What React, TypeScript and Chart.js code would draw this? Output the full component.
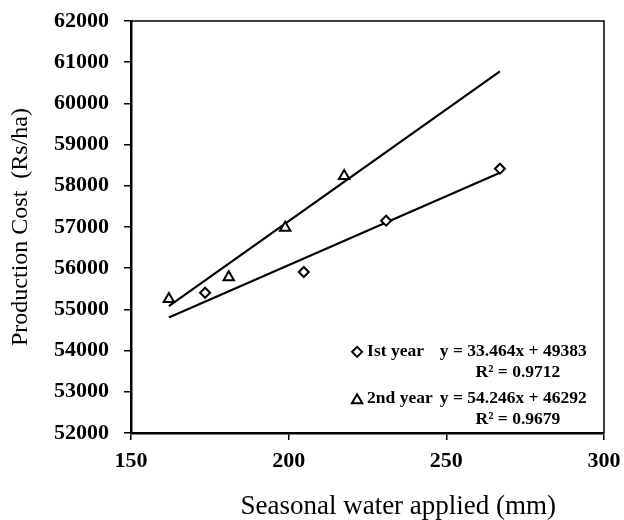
import React, { useEffect, useRef } from 'react';
import { Chart, registerables } from 'chart.js';

Chart.register(...registerables);

// ---- data ----
const xTicks = [150, 200, 250, 300];
const yTicks = [52000, 53000, 54000, 55000, 56000, 57000, 58000, 59000, 60000, 61000, 62000];

const firstYearX = [173.5, 204.8, 230.9, 267.0];
const firstYearY = [55405, 55908, 57153, 58415];
const secondYearX = [162.0, 181.0, 198.9, 217.6];
const secondYearY = [55250, 55780, 56980, 58235];

const trend1X = [162, 267];
const trend1Y = [54804, 58318];
const trend2X = [162, 267];
const trend2Y = [55080, 60776];

const seriesNames = ['Ist year', '2nd year'];
const equations = ['y = 33.464x + 49383', 'y = 54.246x + 46292'];
const rSquared = ['R\u00B2 = 0.9712', 'R\u00B2 = 0.9679'];
const xTitle = 'Seasonal water applied (mm)';
const yTitle = 'Production Cost  (Rs/ha)';

const SERIF = "'Liberation Serif', 'Times New Roman', serif";

const zip = (xs: number[], ys: number[]) => xs.map((x, i) => ({ x, y: ys[i] }));

function drawDiamond(ctx: CanvasRenderingContext2D, x: number, y: number, r: number) {
  ctx.beginPath();
  ctx.moveTo(x, y - r);
  ctx.lineTo(x + r, y);
  ctx.lineTo(x, y + r);
  ctx.lineTo(x - r, y);
  ctx.closePath();
  ctx.fillStyle = '#fff';
  ctx.fill();
  ctx.stroke();
}

function drawTriangle(ctx: CanvasRenderingContext2D, x: number, y: number, r: number) {
  ctx.beginPath();
  for (let i = 0; i < 3; i++) {
    const a = (i * 2 * Math.PI) / 3;
    const px = x + Math.sin(a) * r;
    const py = y - Math.cos(a) * r;
    if (i === 0) ctx.moveTo(px, py);
    else ctx.lineTo(px, py);
  }
  ctx.closePath();
  ctx.fillStyle = '#fff';
  ctx.fill();
  ctx.stroke();
}

const framePlugin = {
  id: 'frameAndLegend',
  afterDraw(chart: any) {
    const { ctx, chartArea } = chart;
    const { left, right, top, bottom } = chartArea;
    const w = right - left;
    const h = bottom - top;
    ctx.save();
    // top + right frame
    ctx.strokeStyle = '#000';
    ctx.lineWidth = 1.5;
    ctx.beginPath();
    ctx.moveTo(left, top);
    ctx.lineTo(right, top);
    ctx.lineTo(right, bottom);
    ctx.stroke();

    // x axis title
    ctx.fillStyle = '#000';
    ctx.font = `27px ${SERIF}`;
    ctx.textAlign = 'center';
    ctx.textBaseline = 'alphabetic';
    ctx.fillText(xTitle, left + 0.565 * w, chart.height - 6);

    // legend
    const markerX = left + 0.478 * w;
    const rows = [0.803, 0.917];
    const rRows = [0.853, 0.966];
    ctx.lineWidth = 2;
    ctx.strokeStyle = '#000';
    rows.forEach((ry, i) => {
      const y = top + ry * h;
      if (i === 0) drawDiamond(ctx, markerX, y, 5);
      else drawTriangle(ctx, markerX, y + 1.5, 6);
      ctx.fillStyle = '#000';
      ctx.font = `bold 17.5px ${SERIF}`;
      ctx.textAlign = 'left';
      ctx.textBaseline = 'middle';
      ctx.fillText(seriesNames[i], markerX + 10, y);
      ctx.fillText(equations[i], left + 0.653 * w, y);
      ctx.textAlign = 'center';
      ctx.fillText(rSquared[i], left + 0.818 * w, top + rRows[i] * h);
    });
    ctx.restore();
  },
};

export default function App() {
  const ref = useRef<HTMLCanvasElement | null>(null);
  useEffect(() => {
    if (!ref.current) return;
    const chart = new Chart(ref.current, {
      type: 'scatter',
      data: {
        datasets: [
          {
            label: seriesNames[0],
            data: zip(firstYearX, firstYearY),
            pointStyle: 'rectRot',
            pointRadius: 5,
            pointBorderWidth: 2,
            borderColor: '#000',
            backgroundColor: '#fff',
            showLine: false,
          },
          {
            label: seriesNames[1],
            data: zip(secondYearX, secondYearY),
            pointStyle: 'triangle',
            pointRadius: 6,
            pointBorderWidth: 2,
            borderColor: '#000',
            backgroundColor: '#fff',
            showLine: false,
          },
          {
            label: 'trend1',
            data: zip(trend1X, trend1Y),
            showLine: true,
            borderColor: '#000',
            borderWidth: 2.2,
            pointRadius: 0,
            fill: false,
          },
          {
            label: 'trend2',
            data: zip(trend2X, trend2Y),
            showLine: true,
            borderColor: '#000',
            borderWidth: 2.2,
            pointRadius: 0,
            fill: false,
          },
        ],
      },
      options: {
        animation: false,
        responsive: true,
        maintainAspectRatio: false,
        layout: { padding: { top: 21, right: 20, left: 0, bottom: 0 } },
        plugins: {
          legend: { display: false },
          tooltip: { enabled: false },
        },
        scales: {
          x: {
            type: 'linear',
            min: xTicks[0],
            max: xTicks[xTicks.length - 1],
            afterBuildTicks: (s: any) => {
              s.ticks = xTicks.map((v) => ({ value: v }));
            },
            ticks: {
              color: '#000',
              font: { family: SERIF, size: 22, weight: 'bold' },
              padding: 8,
              maxRotation: 0,
              callback: (v: any) => String(v),
            },
            grid: { drawOnChartArea: false, drawTicks: true, tickLength: 7, color: '#000', lineWidth: 1.5 },
            border: { display: true, color: '#000', width: 2.5 },
            afterFit: (s: any) => {
              s.height = 87;
              s.paddingLeft = 10;
              s.paddingRight = 10;
            },
          },
          y: {
            type: 'linear',
            min: yTicks[0],
            max: yTicks[yTicks.length - 1],
            afterBuildTicks: (s: any) => {
              s.ticks = yTicks.map((v) => ({ value: v }));
            },
            ticks: {
              color: '#000',
              font: { family: SERIF, size: 22, weight: 'bold' },
              padding: 15,
              callback: (v: any) => String(v),
            },
            grid: { drawOnChartArea: false, drawTicks: true, tickLength: 7, color: '#000', lineWidth: 1.5 },
            border: { display: true, color: '#000', width: 2.5 },
            title: {
              display: true,
              text: yTitle,
              color: '#000',
              font: { family: SERIF, size: 24, weight: 'normal' },
              padding: { top: 6, bottom: 0 },
            },
            afterFit: (s: any) => {
              s.width = 131;
              s.paddingTop = 10;
              s.paddingBottom = 10;
            },
          },
        },
      },
      plugins: [framePlugin],
    } as any);
    return () => chart.destroy();
  }, []);

  return (
    <div style={{ position: 'absolute', left: 0, top: 0, width: 624, height: 520, background: '#fff' }}>
      <canvas ref={ref} />
    </div>
  );
}
